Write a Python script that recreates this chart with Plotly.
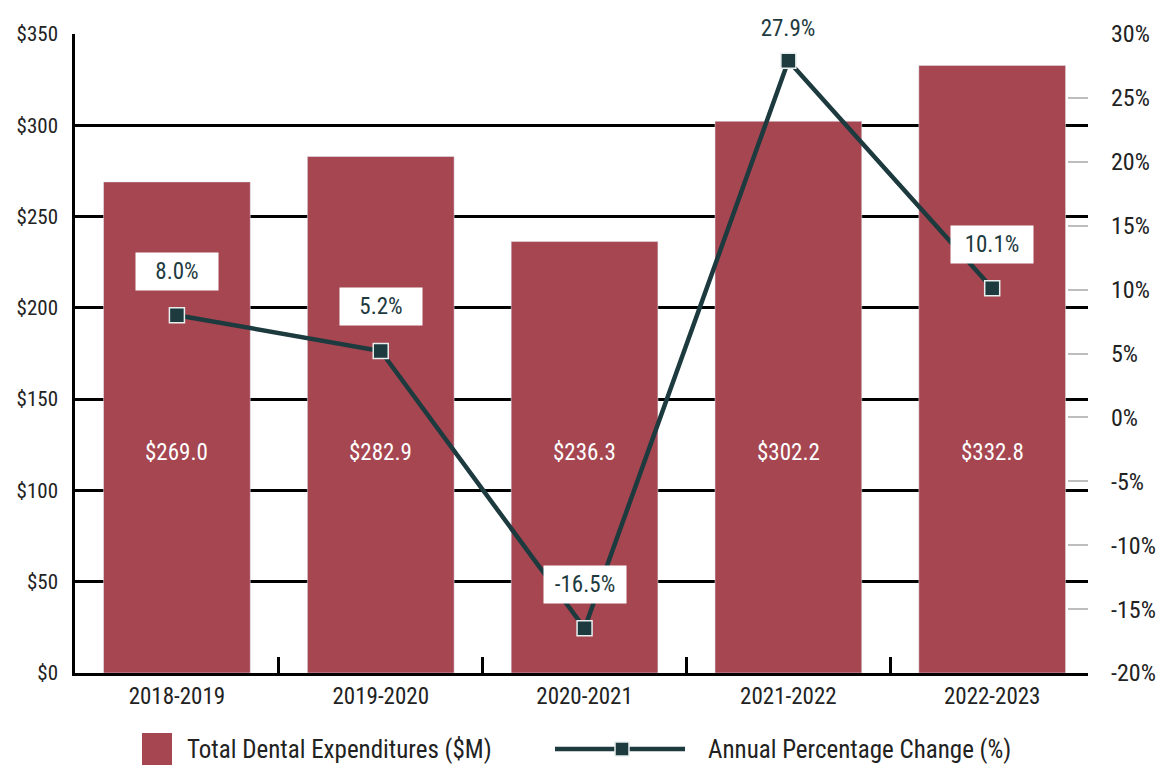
import plotly.graph_objects as go

# data
years = ['2018-2019', '2019-2020', '2020-2021', '2021-2022', '2022-2023']
expenditures = [269.0, 282.9, 236.3, 302.2, 332.8]
pct_change = [8.0, 5.2, -16.5, 27.9, 10.1]
left_ticks = [0, 50, 100, 150, 200, 250, 300, 350]
right_ticks = [-20, -15, -10, -5, 0, 5, 10, 15, 20, 25, 30]

BAR = '#a54651'
LINE = '#1d3a3e'
TXT = '#222222'
FONT = 'Liberation Sans Narrow, Roboto Condensed, DejaVu Sans Condensed, Arial Narrow, sans-serif'

# the page body adds an 8px offset, so the figure is drawn 8px smaller
OFF = 8
W, H = 1170 - OFF, 781 - OFF
L, R, T, B = 75 - OFF, 82, 34 - OFF, 108
pw, ph = W - L - R, H - T - B


def px_x(x):
    return (x - OFF - L) / pw


def px_y(y):
    return (OFF + H - B - y) / ph


fig = go.Figure()
fig.add_trace(go.Bar(x=years, y=expenditures, marker_color=BAR, width=0.72,
                     name='Total Dental Expenditures ($M)', showlegend=False))
fig.add_trace(go.Scatter(x=years, y=pct_change, yaxis='y2', mode='lines+markers',
                         line=dict(color=LINE, width=4.5),
                         marker=dict(symbol='square', size=15, color=LINE,
                                     line=dict(color='#e8eeee', width=1.5)),
                         name='Annual Percentage Change (%)', showlegend=False))

annotations = []
for yr, v in zip(years, expenditures):
    annotations.append(dict(x=yr, y=121, xref='x', yref='y', text=f'${v:.1f}',
                            showarrow=False, font=dict(family=FONT, size=23, color='white')))
for yr, p in zip(years, pct_change):
    annotations.append(dict(x=yr, y=p, xref='x', yref='y2', text=f'{p:.1f}%',
                            showarrow=False, bgcolor='white', width=80, height=35,
                            yshift=32 if p > 25 else 44,
                            font=dict(family=FONT, size=23, color=LINE)))

# legend drawn by hand so the symbols match the original proportions
annotations.append(dict(x=px_x(185), y=px_y(749), xref='paper', yref='paper',
                        xanchor='left', yanchor='middle',
                        text='Total Dental Expenditures ($M)', showarrow=False,
                        font=dict(family=FONT, size=25, color=TXT)))
annotations.append(dict(x=px_x(706), y=px_y(749), xref='paper', yref='paper',
                        xanchor='left', yanchor='middle',
                        text='Annual Percentage Change (%)', showarrow=False,
                        font=dict(family=FONT, size=25, color=TXT)))
shapes = [
    dict(type='rect', xref='paper', yref='paper', x0=px_x(142), x1=px_x(172),
         y0=px_y(733), y1=px_y(765), fillcolor=BAR, line=dict(width=0)),
    dict(type='line', xref='paper', yref='paper', x0=px_x(555), x1=px_x(685),
         y0=px_y(749), y1=px_y(749), line=dict(color=LINE, width=4.5)),
    dict(type='rect', xref='paper', yref='paper', x0=px_x(615), x1=px_x(629),
         y0=px_y(742), y1=px_y(756), fillcolor=LINE, line=dict(color='#e8eeee', width=1.5)),
]

fig.update_layout(
    width=W, height=H,
    margin=dict(l=L, r=R, t=T, b=B),
    plot_bgcolor='white', paper_bgcolor='white',
    font=dict(family=FONT, size=21, color=TXT),
    bargap=0.28,
    xaxis=dict(type='category', range=[-0.5, 4.47], showline=True, linecolor='black', linewidth=3,
               tickson='boundaries', ticks='inside', ticklen=16, tickwidth=2.5, tickcolor='black',
               showgrid=False, automargin=False, tickfont=dict(size=23, color=TXT)),
    yaxis=dict(range=[0, 350], tickvals=left_ticks, ticktext=[f'${v}' for v in left_ticks],
               showgrid=True, gridcolor='black', gridwidth=2.5, zeroline=False,
               showline=True, linecolor='black', linewidth=2.5, ticks='', automargin=False,
               ticklabelstandoff=10, tickfont=dict(size=21, color=TXT)),
    yaxis2=dict(range=[-20, 30], tickvals=right_ticks, ticktext=[f'{v}%' for v in right_ticks],
                overlaying='y', side='right', showgrid=False, zeroline=False, showline=False,
                ticks='inside', ticklen=20, tickwidth=2, tickcolor='#bdbdbd', automargin=False,
                ticklabelstandoff=22, tickfont=dict(size=24, color=TXT)),
    annotations=annotations,
    shapes=shapes,
)

fig.write_html('out.html')
